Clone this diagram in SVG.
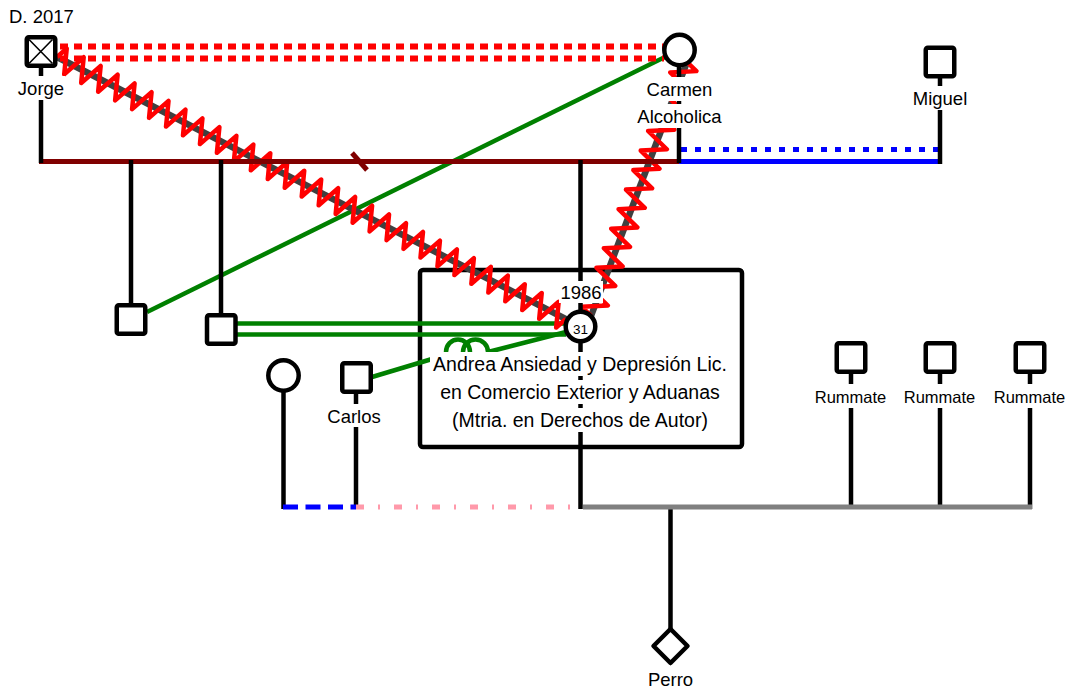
<svg xmlns="http://www.w3.org/2000/svg" width="1076" height="692" viewBox="0 0 1076 692">
<style>
.sh{fill:#fff;stroke:#000;stroke-width:4.5;stroke-linejoin:round}
.ln{fill:none;stroke:#000;stroke-width:4.5}
.gr{fill:none;stroke:#008000;stroke-width:4.5}
.zg{fill:none;stroke:#ff0000;stroke-width:4.5;stroke-linejoin:round}
.zb{stroke:#404040;stroke-width:6.5}
.bg{fill:#fff}
text{font-family:"Liberation Sans",Arial,sans-serif;font-size:18.5px;fill:#000;text-anchor:middle}
.big{font-size:19.5px}
.rm{font-size:16.5px}
</style>
<rect width="1076" height="692" fill="#fff"/>
<g id="frame"><rect x="420" y="270" width="322" height="177" rx="3" class="ln"/></g>
<g id="connectors">
  <line class="gr" x1="147" y1="312" x2="665" y2="57"/>
  <line class="gr" x1="237" y1="323.5" x2="565" y2="323.5"/>
  <line class="gr" x1="237" y1="334.5" x2="566" y2="334.5"/>
  <line class="gr" x1="372" y1="377" x2="432" y2="359"/>
  <path class="gr" d="M446,352 A12,12.5 0 0 1 470,352 M463,352 A12.5,12.5 0 0 1 488,352 L566,332"/>
  <g transform="translate(57,57) rotate(27.24)">
    <line class="zb" x1="0" y1="0" x2="572.5" y2="0"/>
    <path class="zg" d="M0,0 l4.77,-12 l9.54,24 l9.54,-24 l9.54,24 l9.54,-24 l9.54,24 l9.54,-24 l9.54,24 l9.54,-24 l9.54,24 l9.54,-24 l9.54,24 l9.54,-24 l9.54,24 l9.54,-24 l9.54,24 l9.54,-24 l9.54,24 l9.54,-24 l9.54,24 l9.54,-24 l9.54,24 l9.54,-24 l9.54,24 l9.54,-24 l9.54,24 l9.54,-24 l9.54,24 l9.54,-24 l9.54,24 l9.54,-24 l9.54,24 l9.54,-24 l9.54,24 l9.54,-24 l9.54,24 l9.54,-24 l9.54,24 l9.54,-24 l9.54,24 l9.54,-24 l9.54,24 l9.54,-24 l9.54,24 l9.54,-24 l9.54,24 l9.54,-24 l9.54,24 l9.54,-24 l9.54,24 l9.54,-24 l9.54,24 l9.54,-24 l9.54,24 l9.54,-24 l9.54,24 l9.54,-24 l9.54,24 l9.54,-24 l9.54,24 l4.77,-12"/>
  </g>
  <g transform="translate(687,62) rotate(110.7)">
    <line class="zb" x1="0" y1="0" x2="271.5" y2="0"/>
    <path class="zg" d="M0,0 l5.22,-12 l10.44,24 l10.44,-24 l10.44,24 l10.44,-24 l10.44,24 l10.44,-24 l10.44,24 l10.44,-24 l10.44,24 l10.44,-24 l10.44,24 l10.44,-24 l10.44,24 l10.44,-24 l10.44,24 l10.44,-24 l10.44,24 l10.44,-24 l10.44,24 l10.44,-24 l10.44,24 l10.44,-24 l10.44,24 l10.44,-24 l10.44,24 l5.22,-12"/>
  </g>
  <g stroke="#ff0000" stroke-width="6" stroke-dasharray="8 6" fill="none">
    <line x1="60" y1="46.5" x2="664" y2="46.5"/>
    <line x1="60" y1="58.5" x2="664" y2="58.5"/>
  </g>
  <line x1="39" y1="161.5" x2="680" y2="161.5" stroke="#800000" stroke-width="5"/>
  <line x1="352" y1="153" x2="367" y2="170" stroke="#800000" stroke-width="5"/>
  <line x1="679" y1="161.5" x2="942" y2="161.5" stroke="#0000ff" stroke-width="5"/>
  <line x1="681" y1="149.5" x2="940" y2="149.5" stroke="#0000ff" stroke-width="5" stroke-dasharray="6 8"/>
  <line class="ln" x1="41" y1="66" x2="41" y2="163"/>
  <line class="ln" x1="131" y1="160" x2="131" y2="305"/>
  <line class="ln" x1="221" y1="160" x2="221" y2="315"/>
  <line class="ln" x1="580.5" y1="160" x2="580.5" y2="312"/>
  <line class="ln" x1="679" y1="64" x2="679" y2="163"/>
  <line class="ln" x1="940" y1="76" x2="940" y2="164"/>
  <line class="ln" x1="580.5" y1="340" x2="580.5" y2="509"/>
  <line class="ln" x1="283.5" y1="390" x2="283.5" y2="509"/>
  <line class="ln" x1="356" y1="392" x2="356" y2="509"/>
  <line class="ln" x1="851" y1="372" x2="851" y2="509"/>
  <line class="ln" x1="940" y1="372" x2="940" y2="509"/>
  <line class="ln" x1="1030" y1="372" x2="1030" y2="509"/>
  <line class="ln" x1="670.5" y1="507" x2="670.5" y2="630"/>
  <line x1="583" y1="507" x2="1032" y2="507" stroke="#808080" stroke-width="5"/>
  <line x1="356" y1="507" x2="580" y2="507" stroke="#ff99aa" stroke-width="5" stroke-dasharray="8 14 2 14"/>
  <line x1="283" y1="507" x2="356" y2="507" stroke="#0000ff" stroke-width="5" stroke-dasharray="15 7.5"/>
</g>
<g id="jorge">
  <text x="9" y="23" style="text-anchor:start">D. 2017</text>
  <rect class="sh" x="26.75" y="37.25" width="28.5" height="28.5" rx="2"/>
  <path d="M29,39.5 L52.5,63.5 M52.5,39.5 L29,63.5" stroke="#000" stroke-width="1.6"/>
  <rect class="bg" x="17" y="76" width="48" height="24"/>
  <text x="41" y="95">Jorge</text>
</g>
<g id="carmen">
  <circle class="sh" cx="679.5" cy="50" r="15.2"/>
  <rect class="bg" x="646" y="77" width="67" height="24"/>
  <text x="679.5" y="96">Carmen</text>
  <rect class="bg" x="635" y="104" width="89" height="24"/>
  <text x="679.5" y="123">Alcoholica</text>
</g>
<g id="miguel">
  <rect class="sh" x="925.75" y="47.75" width="28.5" height="28.5" rx="2"/>
  <rect class="bg" x="912" y="86" width="56" height="24"/>
  <text x="940" y="105">Miguel</text>
</g>
<g id="hijo1"><rect class="sh" x="116.75" y="305.25" width="28.5" height="28.5" rx="2"/></g>
<g id="hijo2"><rect class="sh" x="207" y="315.25" width="28.5" height="28.5" rx="2"/></g>
<g id="andrea">
  <rect class="bg" x="559" y="281" width="44" height="22"/>
  <text x="581" y="299">1986</text>
  <circle class="sh" cx="580.5" cy="326.5" r="14.8"/>
  <text x="580.5" y="334" style="font-size:13.5px">31</text>
  <rect class="bg" x="430" y="352" width="300" height="24"/>
  <text class="big" x="580" y="371">Andrea Ansiedad y Depresión Lic.</text>
  <rect class="bg" x="438" y="380" width="285" height="24"/>
  <text class="big" x="580" y="399">en Comercio Exterior y Aduanas</text>
  <rect class="bg" x="450" y="408" width="261" height="24"/>
  <text class="big" x="580" y="427">(Mtria. en Derechos de Autor)</text>
</g>
<g id="pareja"><circle class="sh" cx="283.5" cy="375.5" r="15.2"/></g>
<g id="carlos">
  <rect class="sh" x="342.25" y="363.25" width="28.5" height="28.5" rx="2"/>
  <rect class="bg" x="327" y="404" width="56" height="23"/>
  <text x="354" y="423">Carlos</text>
</g>
<g id="rummate1">
  <rect class="sh" x="836.75" y="343.25" width="28.5" height="28.5" rx="2"/>
  <rect class="bg" x="815" y="384" width="72" height="24"/>
  <text class="rm" x="850.5" y="403">Rummate</text>
</g>
<g id="rummate2">
  <rect class="sh" x="925.75" y="343.25" width="28.5" height="28.5" rx="2"/>
  <rect class="bg" x="904" y="384" width="72" height="24"/>
  <text class="rm" x="939.5" y="403">Rummate</text>
</g>
<g id="rummate3">
  <rect class="sh" x="1015.75" y="343.25" width="28.5" height="28.5" rx="2"/>
  <rect class="bg" x="994" y="384" width="72" height="24"/>
  <text class="rm" x="1029.5" y="403">Rummate</text>
</g>
<g id="perro">
  <path class="sh" d="M670.5,629 L687.5,646 L670.5,663 L653.5,646 Z"/>
  <text x="670.5" y="686">Perro</text>
</g>
</svg>
